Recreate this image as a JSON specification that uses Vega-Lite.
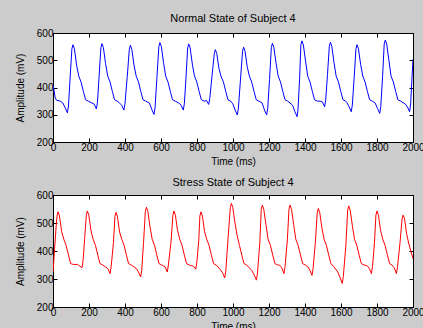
{
  "$schema": "https://vega.github.io/schema/vega-lite/v6.json",
  "background": "#cccccc",
  "padding": {"left": 14, "top": 12, "right": 0, "bottom": 0},
  "spacing": 9,
  "config": {
    "font": "Liberation Sans",
    "view": {"stroke": "#000000", "strokeWidth": 1, "fill": "#ffffff"},
    "axis": {"grid": false, "labelFont": "Liberation Sans", "titleFont": "Liberation Sans", "labelFontSize": 10, "titleFontSize": 10, "titleFontWeight": "normal", "labelColor": "#000000", "titleColor": "#000000", "domainColor": "#000000", "tickColor": "#000000", "tickSize": -4, "labelFlush": false, "labelOverlap": false, "format": "d"},
    "title": {"font": "Liberation Sans", "fontSize": 11, "fontWeight": "normal", "color": "#000000"}
  },
  "datasets": {
    "normal": [
      {"t":0,"v":408},{"t":5,"v":392},{"t":12,"v":362},{"t":20,"v":353},{"t":40,"v":350},{"t":55,"v":343},{"t":68,"v":325},{"t":80,"v":307},
      {"t":86,"v":332},{"t":95,"v":435},{"t":105,"v":542},{"t":111,"v":557},
      {"t":119,"v":542},{"t":131,"v":482},{"t":143,"v":442},{"t":156,"v":420},{"t":169,"v":385},{"t":181,"v":355},{"t":196,"v":350},{"t":216,"v":343},{"t":229,"v":339},{"t":241,"v":321},
      {"t":247,"v":346},{"t":256,"v":440},{"t":266,"v":546},{"t":272,"v":561},
      {"t":280,"v":546},{"t":292,"v":488},{"t":304,"v":442},{"t":317,"v":420},{"t":330,"v":385},{"t":342,"v":355},{"t":357,"v":350},{"t":369,"v":343},{"t":382,"v":335},{"t":394,"v":317},
      {"t":400,"v":342},{"t":412,"v":436},{"t":424,"v":540},{"t":430,"v":555},
      {"t":438,"v":540},{"t":450,"v":482},{"t":462,"v":442},{"t":475,"v":420},{"t":488,"v":385},{"t":500,"v":355},{"t":515,"v":350},{"t":536,"v":343},{"t":549,"v":319},{"t":561,"v":301},
      {"t":567,"v":326},{"t":577,"v":433},{"t":588,"v":550},{"t":594,"v":565},
      {"t":602,"v":550},{"t":614,"v":492},{"t":626,"v":442},{"t":639,"v":420},{"t":652,"v":385},{"t":664,"v":355},{"t":679,"v":350},{"t":699,"v":343},{"t":712,"v":335},{"t":724,"v":317},
      {"t":730,"v":342},{"t":739,"v":438},{"t":748,"v":545},{"t":754,"v":560},
      {"t":762,"v":545},{"t":774,"v":486},{"t":786,"v":442},{"t":799,"v":420},{"t":812,"v":385},{"t":824,"v":355},{"t":840,"v":350},{"t":853,"v":352},{"t":865,"v":338},
      {"t":871,"v":360},{"t":883,"v":440},{"t":896,"v":524},{"t":902,"v":539},
      {"t":910,"v":524},{"t":922,"v":470},{"t":934,"v":440},{"t":947,"v":420},{"t":960,"v":385},{"t":972,"v":355},{"t":987,"v":350},{"t":999,"v":340},{"t":1012,"v":317},{"t":1024,"v":299},
      {"t":1030,"v":324},{"t":1041,"v":424},{"t":1053,"v":533},{"t":1059,"v":548},
      {"t":1067,"v":533},{"t":1079,"v":476},{"t":1091,"v":442},{"t":1104,"v":420},{"t":1117,"v":385},{"t":1129,"v":355},{"t":1144,"v":350},{"t":1162,"v":343},{"t":1175,"v":317},{"t":1187,"v":299},
      {"t":1193,"v":324},{"t":1203,"v":430},{"t":1213,"v":547},{"t":1219,"v":562},
      {"t":1227,"v":547},{"t":1239,"v":490},{"t":1251,"v":442},{"t":1264,"v":420},{"t":1277,"v":385},{"t":1289,"v":355},{"t":1304,"v":350},{"t":1331,"v":335},{"t":1344,"v":311},{"t":1356,"v":293},
      {"t":1361,"v":318},{"t":1370,"v":432},{"t":1377,"v":556},{"t":1383,"v":571},
      {"t":1391,"v":556},{"t":1403,"v":497},{"t":1415,"v":442},{"t":1428,"v":420},{"t":1441,"v":385},{"t":1453,"v":355},{"t":1468,"v":350},{"t":1484,"v":350},{"t":1497,"v":347},{"t":1509,"v":329},
      {"t":1515,"v":354},{"t":1525,"v":448},{"t":1535,"v":551},{"t":1541,"v":566},
      {"t":1549,"v":551},{"t":1561,"v":492},{"t":1573,"v":442},{"t":1586,"v":420},{"t":1599,"v":385},{"t":1611,"v":355},{"t":1626,"v":350},{"t":1632,"v":345},{"t":1645,"v":329},{"t":1657,"v":311},
      {"t":1663,"v":336},{"t":1673,"v":434},{"t":1683,"v":542},{"t":1689,"v":557},
      {"t":1697,"v":542},{"t":1709,"v":485},{"t":1721,"v":442},{"t":1734,"v":420},{"t":1747,"v":385},{"t":1759,"v":355},{"t":1774,"v":350},{"t":1790,"v":343},{"t":1803,"v":323},{"t":1815,"v":305},
      {"t":1821,"v":330},{"t":1831,"v":440},{"t":1840,"v":559},{"t":1846,"v":574},
      {"t":1854,"v":559},{"t":1866,"v":500},{"t":1878,"v":442},{"t":1891,"v":420},{"t":1904,"v":385},{"t":1916,"v":355},{"t":1931,"v":350},{"t":1956,"v":340},{"t":1969,"v":329},{"t":1981,"v":311},
      {"t":1987,"v":340},{"t":1994,"v":430},{"t":2000,"v":504}
    ],
    "stress": [
      {"t":0,"v":325},{"t":4,"v":360},{"t":9,"v":409},{"t":18,"v":493},{"t":23,"v":528},{"t":28,"v":540},
      {"t":36,"v":525},{"t":48,"v":470},{"t":60,"v":442},{"t":73,"v":420},{"t":86,"v":385},{"t":98,"v":355},{"t":113,"v":352},{"t":136,"v":352},{"t":149,"v":346},{"t":161,"v":340},
      {"t":167,"v":365},{"t":176,"v":445},{"t":185,"v":528},{"t":191,"v":543},
      {"t":199,"v":528},{"t":211,"v":473},{"t":223,"v":442},{"t":236,"v":420},{"t":249,"v":385},{"t":261,"v":355},{"t":276,"v":350},{"t":292,"v":343},{"t":305,"v":337},{"t":317,"v":319},
      {"t":323,"v":344},{"t":336,"v":430},{"t":344,"v":523},{"t":350,"v":538},
      {"t":358,"v":523},{"t":370,"v":468},{"t":382,"v":442},{"t":395,"v":420},{"t":408,"v":385},{"t":420,"v":355},{"t":435,"v":350},{"t":462,"v":338},{"t":475,"v":325},{"t":487,"v":307},
      {"t":493,"v":332},{"t":503,"v":430},{"t":513,"v":541},{"t":519,"v":556},
      {"t":527,"v":541},{"t":539,"v":486},{"t":551,"v":442},{"t":564,"v":420},{"t":577,"v":385},{"t":589,"v":355},{"t":604,"v":350},{"t":610,"v":348},{"t":623,"v":343},{"t":635,"v":325},
      {"t":641,"v":350},{"t":656,"v":435},{"t":666,"v":528},{"t":672,"v":543},
      {"t":680,"v":528},{"t":692,"v":473},{"t":704,"v":442},{"t":717,"v":420},{"t":730,"v":385},{"t":742,"v":355},{"t":757,"v":350},{"t":768,"v":348},{"t":781,"v":345},{"t":793,"v":335},
      {"t":799,"v":360},{"t":810,"v":440},{"t":816,"v":525},{"t":822,"v":540},
      {"t":830,"v":525},{"t":842,"v":470},{"t":854,"v":442},{"t":867,"v":420},{"t":880,"v":385},{"t":892,"v":355},{"t":907,"v":350},{"t":929,"v":334},{"t":942,"v":322},{"t":954,"v":304},
      {"t":960,"v":329},{"t":972,"v":440},{"t":985,"v":555},{"t":991,"v":570},
      {"t":999,"v":555},{"t":1011,"v":500},{"t":1023,"v":455},{"t":1036,"v":420},{"t":1049,"v":385},{"t":1061,"v":355},{"t":1076,"v":350},{"t":1105,"v":330},{"t":1118,"v":314},{"t":1130,"v":296},
      {"t":1136,"v":321},{"t":1149,"v":430},{"t":1157,"v":549},{"t":1163,"v":564},
      {"t":1171,"v":549},{"t":1183,"v":494},{"t":1195,"v":442},{"t":1208,"v":420},{"t":1221,"v":385},{"t":1233,"v":355},{"t":1248,"v":350},{"t":1258,"v":350},{"t":1271,"v":340},{"t":1283,"v":319},
      {"t":1289,"v":344},{"t":1302,"v":440},{"t":1311,"v":549},{"t":1317,"v":564},
      {"t":1325,"v":549},{"t":1337,"v":494},{"t":1349,"v":442},{"t":1362,"v":420},{"t":1375,"v":385},{"t":1387,"v":355},{"t":1402,"v":350},{"t":1414,"v":345},{"t":1427,"v":332},{"t":1439,"v":313},
      {"t":1445,"v":338},{"t":1458,"v":435},{"t":1468,"v":537},{"t":1474,"v":552},
      {"t":1482,"v":537},{"t":1494,"v":482},{"t":1506,"v":442},{"t":1519,"v":420},{"t":1532,"v":385},{"t":1544,"v":355},{"t":1559,"v":345},{"t":1582,"v":325},{"t":1595,"v":305},{"t":1607,"v":284},
      {"t":1613,"v":309},{"t":1627,"v":420},{"t":1637,"v":546},{"t":1643,"v":561},
      {"t":1651,"v":546},{"t":1663,"v":491},{"t":1675,"v":442},{"t":1688,"v":420},{"t":1701,"v":385},{"t":1713,"v":355},{"t":1728,"v":350},{"t":1744,"v":348},{"t":1757,"v":338},{"t":1769,"v":319},
      {"t":1775,"v":344},{"t":1786,"v":430},{"t":1794,"v":528},{"t":1800,"v":543},
      {"t":1808,"v":528},{"t":1820,"v":473},{"t":1832,"v":442},{"t":1845,"v":420},{"t":1858,"v":385},{"t":1870,"v":355},{"t":1883,"v":350},{"t":1896,"v":340},{"t":1908,"v":319},
      {"t":1914,"v":344},{"t":1928,"v":430},{"t":1939,"v":513},{"t":1945,"v":528},
      {"t":1953,"v":515},{"t":1965,"v":460},{"t":1977,"v":425},{"t":1988,"v":400},{"t":2000,"v":373}
    ]
  },
  "vconcat": [
    {
      "width": 360,
      "height": 109,
      "title": {"text": "Normal State of Subject 4", "offset": 4},
      "data": {"name": "normal"},
      "layer": [
        {
          "mark": {"type": "line", "color": "#0000ff", "strokeWidth": 1, "clip": true},
          "encoding": {
            "x": {"field": "t", "type": "quantitative", "scale": {"domain": [0, 2000], "nice": false, "zero": false}, "axis": {"title": "Time (ms)", "values": [0,200,400,600,800,1000,1200,1400,1600,1800,2000], "labelPadding": 4, "titlePadding": 4}},
            "y": {"field": "v", "type": "quantitative", "scale": {"domain": [200, 600], "nice": false, "zero": false}, "axis": {"title": "Amplitude (mV)", "values": [200,300,400,500,600], "labelPadding": 4, "titlePadding": 11}}
          }
        },
        {
          "mark": {"type": "line", "opacity": 0},
          "encoding": {
            "x": {"field": "t", "type": "quantitative", "axis": {"orient": "top", "title": null, "labels": false, "domain": false, "values": [0,200,400,600,800,1000,1200,1400,1600,1800,2000]}},
            "y": {"field": "v", "type": "quantitative", "axis": {"orient": "right", "title": null, "labels": false, "domain": false, "values": [200,300,400,500,600]}}
          }
        }
      ],
      "resolve": {"axis": {"x": "independent", "y": "independent"}}
    },
    {
      "width": 360,
      "height": 112,
      "title": {"text": "Stress State of Subject 4", "offset": 2},
      "data": {"name": "stress"},
      "layer": [
        {
          "mark": {"type": "line", "color": "#ff0000", "strokeWidth": 1, "clip": true},
          "encoding": {
            "x": {"field": "t", "type": "quantitative", "scale": {"domain": [0, 2000], "nice": false, "zero": false}, "axis": {"title": "Time (ms)", "values": [0,200,400,600,800,1000,1200,1400,1600,1800,2000], "labelPadding": 4, "titlePadding": 4}},
            "y": {"field": "v", "type": "quantitative", "scale": {"domain": [200, 600], "nice": false, "zero": false}, "axis": {"title": "Amplitude (mV)", "values": [200,300,400,500,600], "labelPadding": 4, "titlePadding": 11}}
          }
        },
        {
          "mark": {"type": "line", "opacity": 0},
          "encoding": {
            "x": {"field": "t", "type": "quantitative", "axis": {"orient": "top", "title": null, "labels": false, "domain": false, "values": [0,200,400,600,800,1000,1200,1400,1600,1800,2000]}},
            "y": {"field": "v", "type": "quantitative", "axis": {"orient": "right", "title": null, "labels": false, "domain": false, "values": [200,300,400,500,600]}}
          }
        }
      ],
      "resolve": {"axis": {"x": "independent", "y": "independent"}}
    }
  ]
}
